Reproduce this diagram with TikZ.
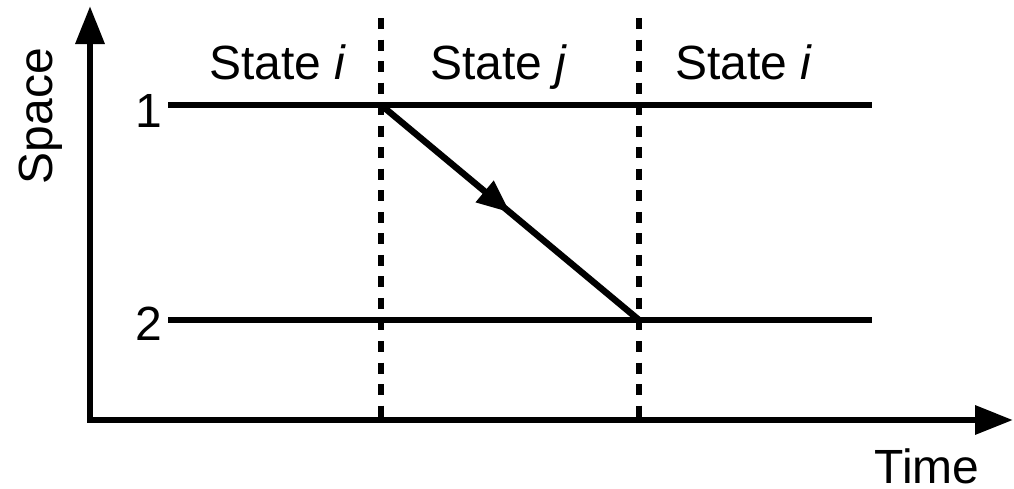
\documentclass[tikz,border=0pt]{standalone}
\usepackage{fontspec}
\setmainfont{Liberation Sans}
\usepackage{xcolor}
\usepackage{tikz}
\usetikzlibrary{arrows.meta,positioning,decorations.markings}

\begin{document}
\begin{tikzpicture}[
    x=0.75pt, y=-0.75pt,
    lbl/.style={inner sep=0pt, font=\fontsize{36}{43}\selectfont},
    axis/.style={line width=4.8pt, line join=miter,
                 {Triangle[length=28.5pt,width=21pt]}-{Triangle[length=28.5pt,width=21pt]}},
    level/.style={line width=4.8pt},
    border/.style={line width=4.6pt, dash pattern=on 8.25pt off 7.9pt},
    hop/.style={line width=4.8pt, postaction={decorate},
                decoration={markings, mark=at position 0.5 with
                  {\arrow{Triangle[length=24.75pt,width=20pt]}}}}
  ]
    \useasboundingbox (0,0) rectangle (1014,489);

    \coordinate (ytop) at (90,6);
    \coordinate (xend) at (1013,420);
    \coordinate (a1) at (168,105);
    \coordinate (b1) at (872,105);
    \coordinate (a2) at (168,320);
    \coordinate (b2) at (872,320);
    \coordinate (p1top) at (381,18);
    \coordinate (p1bot) at (381,420);
    \coordinate (p2top) at (639,18);
    \coordinate (p2bot) at (639,420);
    \coordinate (t1) at (381,105);
    \coordinate (t2) at (639,320);

    \node[lbl, anchor=base] (sti) at (278,79) {State \textit{i}};
    \node[lbl, anchor=base] (stj) at (499,79) {State \textit{j}};
    \node[lbl, anchor=base] (stk) at (744,79) {State \textit{i}};
    \node[lbl, anchor=base east] (one) at (162,127) {1};
    \node[lbl, anchor=base east] (two) at (162,340) {2};
    \node[lbl, anchor=base] (time) at (927,483) {Time};
    \node[lbl, anchor=base, rotate=90] (space) at (52,116) {Space};

    \draw[border] (p1top) -- (p1bot);
    \draw[border] (p2top) -- (p2bot);
    \draw[level] (a1) -- (b1);
    \draw[level] (a2) -- (b2);
    \draw[hop] (t1) -- (t2);
    \draw[axis] (ytop) |- (xend);
\end{tikzpicture}
\end{document}
